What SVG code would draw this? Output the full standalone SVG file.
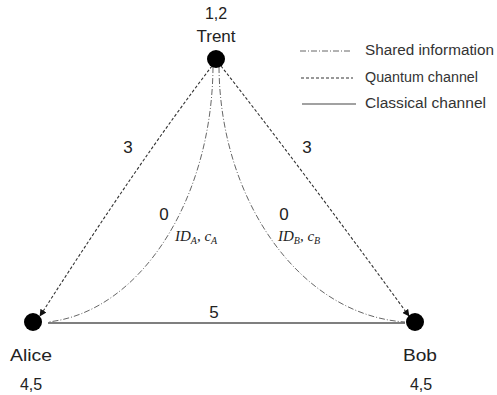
<svg xmlns="http://www.w3.org/2000/svg" width="497" height="395" viewBox="0 0 497 395">
<style>
.lbl{font-family:"Liberation Sans",Arial,sans-serif;fill:#222;text-anchor:middle}
.leg{font-family:"Liberation Sans",Arial,sans-serif;fill:#333;font-size:14px}
.math{font-family:"Liberation Serif","Times New Roman",serif;font-style:italic;fill:#222;font-size:15px}
.q{fill:none;stroke:#333;stroke-width:1.1;stroke-dasharray:3,2}
.s{fill:none;stroke:#666;stroke-width:1;stroke-dasharray:6,2,1,2}
.c{fill:none;stroke:#555;stroke-width:1.3}
</style>
<defs>
<marker id="ah" viewBox="0 0 10 10" refX="9" refY="5" markerWidth="7" markerHeight="7" orient="auto" markerUnits="userSpaceOnUse">
<path d="M0,0 L10,5 L0,10 z" fill="#111"/>
</marker>
</defs>
<g id="connectors">
<path class="q" d="M212,66 Q140,160 40,316" marker-end="url(#ah)"/>
<path class="q" d="M221,66 Q295,160 409,316" marker-end="url(#ah)"/>
<path class="s" d="M213,67 C212,200 140,312 48,322"/>
<path class="s" d="M219,67 C220,200 300,315 405,322"/>
<line class="c" x1="48" y1="323" x2="405" y2="323"/>
<text class="lbl" x="128" y="153" font-size="17">3</text>
<text class="lbl" x="307" y="153" font-size="17">3</text>
<text class="lbl" x="164" y="220" font-size="17">0</text>
<text class="lbl" x="284" y="220" font-size="17">0</text>
<text class="math" x="175" y="241">ID<tspan font-size="10" dy="3">A</tspan><tspan dy="-3">, c</tspan><tspan font-size="10" dy="3">A</tspan></text>
<text class="math" x="278" y="241">ID<tspan font-size="10" dy="3">B</tspan><tspan dy="-3">, c</tspan><tspan font-size="10" dy="3">B</tspan></text>
<text class="lbl" x="214" y="318" font-size="17">5</text>
</g>
<g id="trent">
<circle cx="216" cy="59" r="9" fill="#000"/>
<text class="lbl" x="216" y="19" font-size="16">1,2</text>
<text class="lbl" x="216" y="42" font-size="17">Trent</text>
</g>
<g id="alice">
<circle cx="33" cy="322" r="9" fill="#000"/>
<text class="lbl" x="31" y="361" font-size="17" textLength="42" lengthAdjust="spacingAndGlyphs">Alice</text>
<text class="lbl" x="31" y="390" font-size="16">4,5</text>
</g>
<g id="bob">
<circle cx="415" cy="322" r="9" fill="#000"/>
<text class="lbl" x="420" y="361" font-size="17" textLength="34" lengthAdjust="spacingAndGlyphs">Bob</text>
<text class="lbl" x="421" y="390" font-size="16">4,5</text>
</g>
<g id="legend">
<line class="s" x1="300" y1="51" x2="352" y2="51"/>
<text class="leg" x="365" y="55" textLength="129" lengthAdjust="spacingAndGlyphs">Shared information</text>
<line class="q" x1="301" y1="78" x2="353" y2="78" stroke-dasharray="2.5,2"/>
<text class="leg" x="365" y="82" textLength="113" lengthAdjust="spacingAndGlyphs">Quantum channel</text>
<line x1="302" y1="104" x2="356" y2="104" stroke="#444" stroke-width="1.2"/>
<text class="leg" x="365" y="108" textLength="121" lengthAdjust="spacingAndGlyphs">Classical channel</text>
</g>
</svg>
